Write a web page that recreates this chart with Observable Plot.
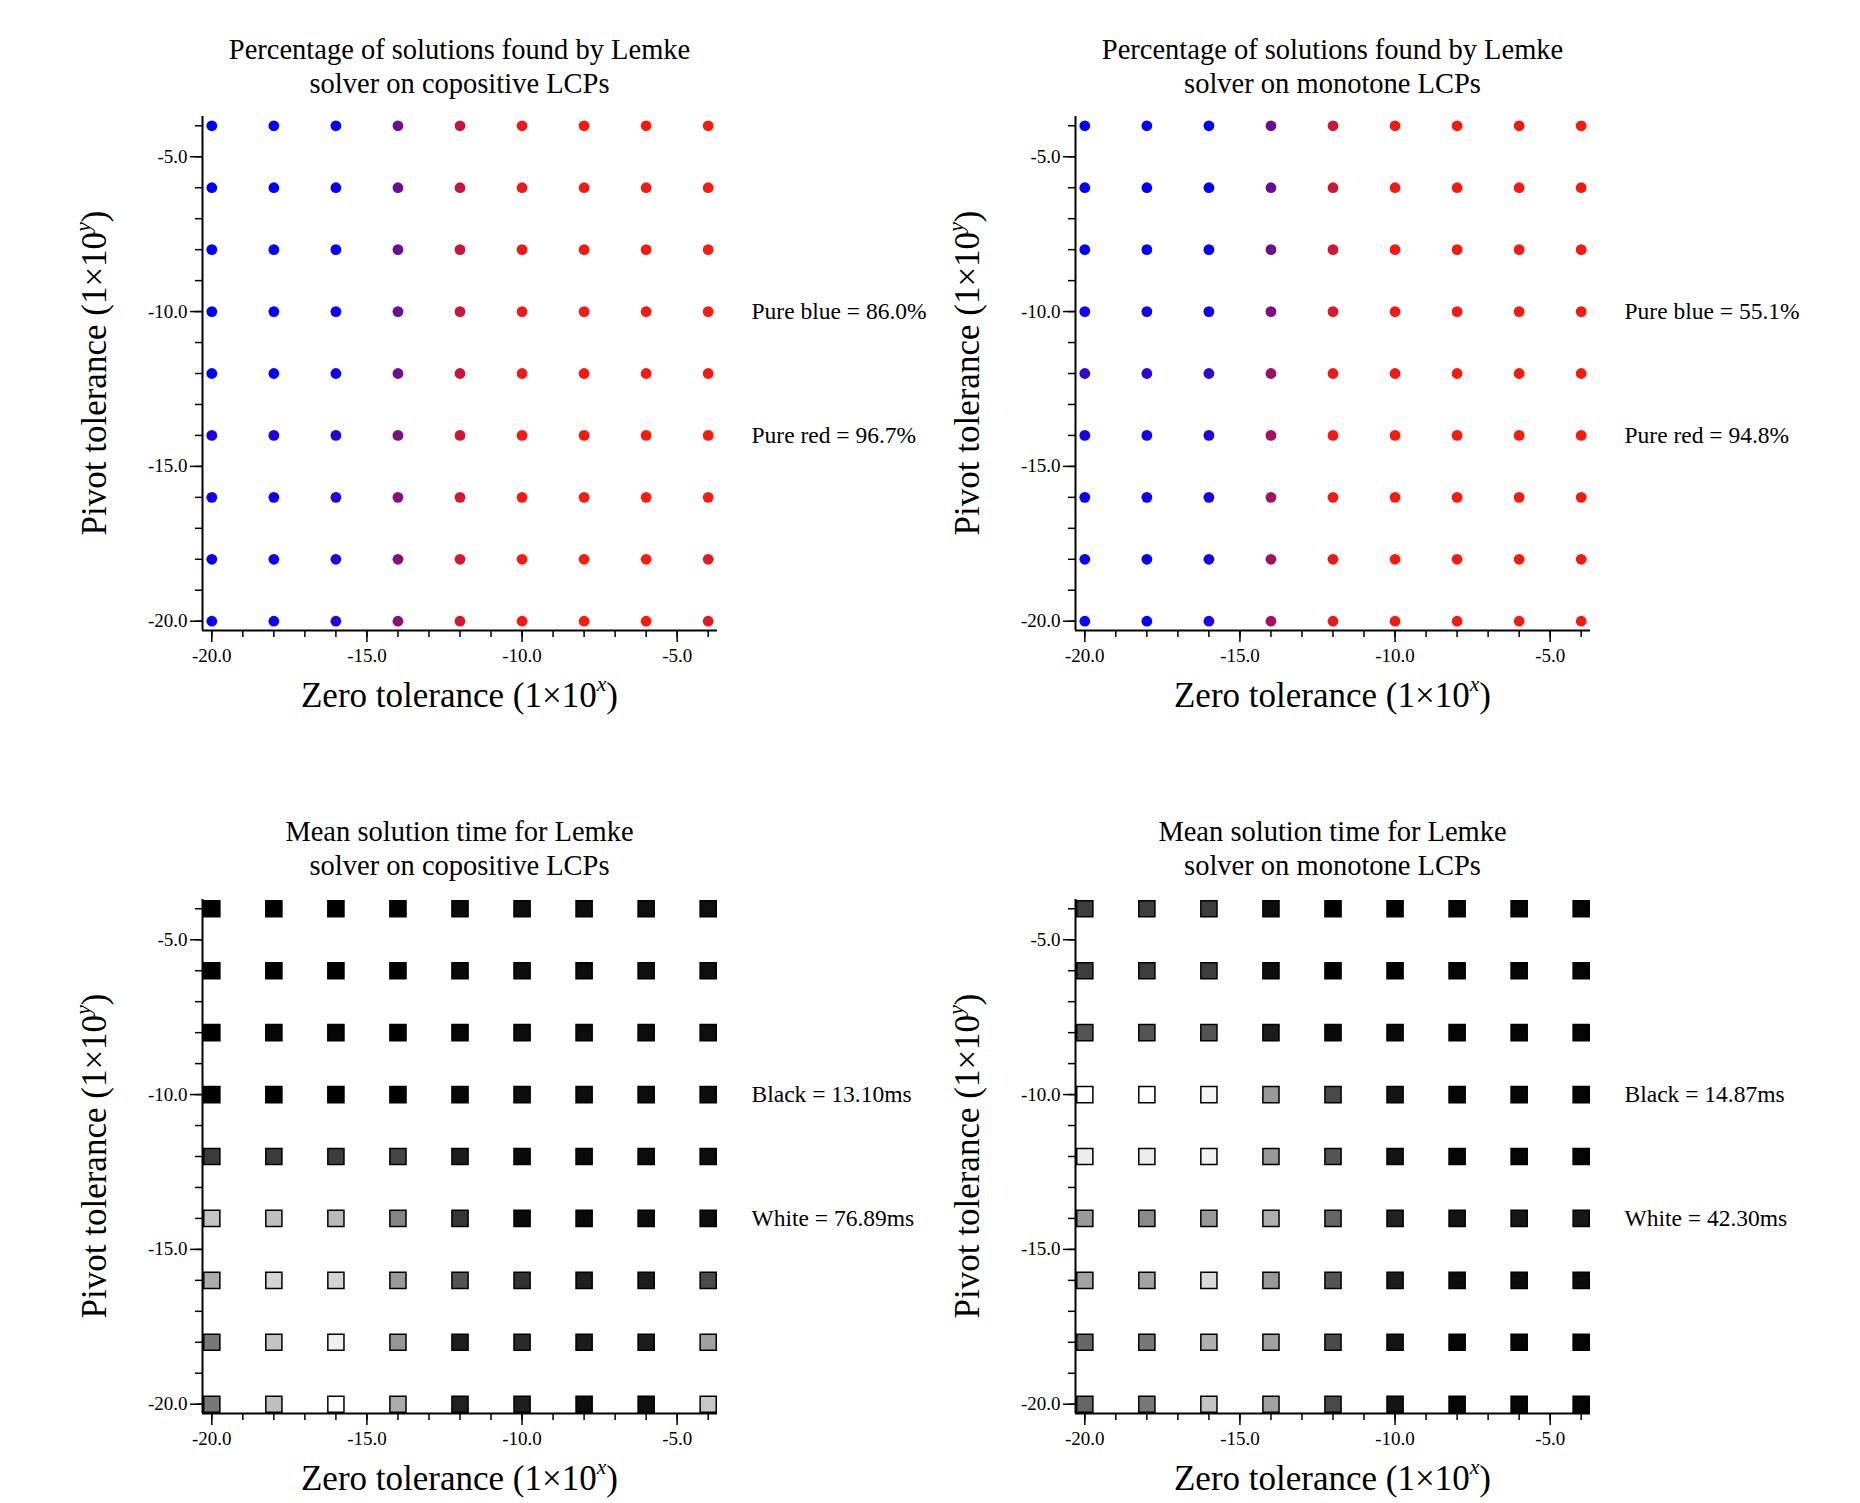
<!DOCTYPE html>
<html>
<head>
<meta charset="utf-8">
<script src="https://cdn.jsdelivr.net/npm/d3@7"></script>
<script src="https://cdn.jsdelivr.net/npm/@observablehq/plot@0.6"></script>
<style>
  body { margin: 0; background: #fff; }
  #root { position: relative; width: 1860px; height: 1503px; font-family: "Liberation Serif", "DejaVu Serif", serif; color: #000; overflow: hidden; }
  .title { position: absolute; text-align: center; font-size: 28.5px; line-height: 34px; width: 700px; }
  .xlab { position: absolute; text-align: center; font-size: 35px; line-height: 42px; width: 600px; white-space: nowrap; }
  .ylab { position: absolute; font-size: 35px; line-height: 42px; white-space: nowrap; transform: translate(-50%, -50%) rotate(-90deg); }
  .xlab sup, .ylab sup { font-size: 0.62em; font-style: italic; line-height: 0; vertical-align: 0.75em; }
  .panel { position: absolute; }
</style>
</head>
<body>
<div id="root"></div>
<script>
// ---- data ----
const xValues = [-20, -18, -16, -14, -12, -10, -8, -6, -4];   // zero tolerance exponent (columns)
const yValues = [-4, -6, -8, -10, -12, -14, -16, -18, -20];   // pivot tolerance exponent (rows)

const xMajorTicks = [-20, -15, -10, -5];
const yMajorTicks = [-20, -15, -10, -5];
const minorTicks = [-20, -19, -18, -17, -16, -15, -14, -13, -12, -11, -10, -9, -8, -7, -6, -5, -4];
const axisDomain = [-20.3, -3.7];

// Percentage of solutions found (copositive), rows = yValues, cols = xValues
const copositivePct = [
  [86.0, 86.0, 86.2, 90.7, 94.5, 96.1, 96.5, 96.5, 96.6],
  [86.0, 86.0, 86.2, 90.6, 94.6, 96.2, 96.5, 96.5, 96.6],
  [86.0, 86.0, 86.2, 90.7, 94.6, 96.2, 96.5, 96.5, 96.6],
  [86.0, 86.0, 86.3, 90.7, 94.6, 96.2, 96.5, 96.5, 96.6],
  [86.0, 86.1, 86.5, 90.9, 94.7, 96.2, 96.5, 96.5, 96.5],
  [87.1, 87.1, 87.6, 91.4, 94.9, 96.3, 96.5, 96.6, 96.6],
  [86.5, 86.5, 87.6, 91.7, 95.1, 96.4, 96.6, 96.6, 96.7],
  [86.3, 86.5, 87.4, 91.8, 95.1, 96.4, 96.6, 96.6, 95.6],
  [86.3, 86.5, 87.5, 92.1, 95.2, 96.4, 96.6, 96.6, 95.6]
];
// Percentage of solutions found (monotone)
const monotonePct = [
  [55.1, 55.1, 55.1, 72.2, 87.7, 93.6, 94.0, 94.0, 94.0],
  [55.1, 55.1, 55.1, 72.2, 88.1, 93.6, 94.0, 94.0, 94.0],
  [55.1, 55.1, 55.1, 72.6, 88.1, 93.6, 94.0, 94.0, 94.0],
  [58.3, 58.3, 57.9, 75.0, 89.6, 93.6, 94.0, 94.0, 94.0],
  [63.8, 63.0, 63.0, 79.7, 92.8, 94.0, 94.4, 94.4, 94.4],
  [58.3, 58.3, 59.9, 81.3, 93.6, 94.8, 94.8, 94.8, 94.8],
  [56.3, 56.3, 59.1, 81.3, 92.8, 94.0, 94.0, 94.0, 94.0],
  [55.9, 55.9, 58.7, 80.9, 92.4, 93.6, 93.6, 93.6, 93.6],
  [55.9, 56.3, 59.1, 81.3, 91.6, 93.6, 93.6, 93.6, 93.6]
];
// Mean solution time in ms (copositive)
const copositiveTime = [
  [13.10, 13.10, 13.10, 13.74, 15.65, 16.29, 16.29, 16.93, 16.93],
  [13.10, 13.10, 13.10, 13.10, 15.65, 16.29, 16.29, 16.93, 16.93],
  [13.10, 15.01, 14.38, 13.10, 15.01, 16.29, 16.29, 16.29, 16.93],
  [13.10, 13.10, 13.10, 13.10, 15.01, 16.29, 16.29, 16.29, 16.29],
  [27.77, 27.77, 28.41, 30.32, 20.12, 15.65, 15.65, 16.29, 16.29],
  [62.22, 60.94, 59.67, 46.27, 26.50, 15.65, 15.65, 16.29, 16.29],
  [55.84, 66.05, 66.05, 51.37, 34.15, 25.86, 20.75, 20.12, 31.60],
  [43.08, 62.22, 73.06, 50.74, 20.75, 23.94, 20.12, 20.12, 53.29],
  [43.08, 60.94, 76.89, 55.84, 21.39, 20.75, 16.29, 16.93, 62.86]
];
// Mean solution time in ms (monotone)
const monotoneTime = [
  [21.45, 21.45, 21.45, 16.24, 14.87, 15.14, 15.42, 15.42, 15.42],
  [21.45, 21.45, 21.45, 16.24, 14.87, 15.14, 15.42, 15.42, 15.42],
  [23.92, 23.92, 23.92, 17.89, 15.97, 15.97, 15.42, 15.42, 15.42],
  [42.30, 42.30, 41.34, 31.33, 22.82, 17.06, 15.42, 15.42, 15.42],
  [40.38, 40.38, 40.93, 31.33, 23.92, 17.06, 15.42, 15.42, 15.42],
  [31.33, 29.68, 31.33, 33.80, 25.84, 18.44, 17.06, 17.34, 17.34],
  [32.43, 32.43, 38.19, 31.33, 23.92, 17.89, 16.24, 16.24, 16.24],
  [25.84, 27.76, 33.80, 32.15, 22.82, 17.06, 15.42, 15.42, 15.42],
  [25.84, 27.76, 35.99, 32.15, 22.82, 17.06, 15.42, 15.42, 15.42]
];

const titles = [
  ["Percentage of solutions found by Lemke", "solver on copositive LCPs"],
  ["Percentage of solutions found by Lemke", "solver on monotone LCPs"],
  ["Mean solution time for Lemke", "solver on copositive LCPs"],
  ["Mean solution time for Lemke", "solver on monotone LCPs"]
];
const annotationLabels = [
  ["Pure blue = 86.0%", "Pure red = 96.7%"],
  ["Pure blue = 55.1%", "Pure red = 94.8%"],
  ["Black = 13.10ms", "White = 76.89ms"],
  ["Black = 14.87ms", "White = 42.30ms"]
];
const annotationRows = [-10, -14];
const colorDomains = [[86.0, 96.7], [55.1, 94.8], [13.10, 76.89], [14.87, 42.30]];
const matrices = [copositivePct, monotonePct, copositiveTime, monotoneTime];

// ---- layout ----
const root = document.getElementById("root");
const frameW = 515, frameH = 514;
const mL = 90, mT = 11, mR = 230, mB = 50;
const origins = [[202, 116], [1075, 116], [202, 898.5], [1075, 898.5]]; // frame top-left per panel

function tidy(matrix) {
  return yValues.flatMap((y, i) => xValues.map((x, j) => ({x, y, v: matrix[i][j]})));
}

matrices.forEach((matrix, k) => {
  const [fx, fy] = origins[k];
  const isTime = k >= 2;
  const data = tidy(matrix);
  const annots = annotationRows.map((y, i) => ({y, label: annotationLabels[k][i]}));

  const dotMark = isTime
    ? Plot.dot(data, {x: "x", y: "y", fill: "v", symbol: "square", r: 9.1, stroke: "#000", strokeWidth: 1.5})
    : Plot.dot(data, {x: "x", y: "y", fill: "v", r: 5.4});

  const chart = Plot.plot({
    width: mL + frameW + mR,
    height: mT + frameH + mB,
    marginLeft: mL, marginRight: mR, marginTop: mT, marginBottom: mB,
    style: {fontFamily: "'Liberation Serif', serif", fontSize: "19px", background: "transparent", color: "#000"},
    x: {domain: axisDomain, axis: null},
    y: {domain: axisDomain, axis: null},
    color: {
      type: "linear",
      domain: colorDomains[k],
      range: isTime ? ["#000000", "#ffffff"] : ["#0000ff", "#f81c0c"],
      interpolate: "rgb"
    },
    marks: [
      Plot.axisX(minorTicks, {tickSize: 7, tickFormat: () => "", strokeWidth: 1.5, label: null}),
      Plot.axisY(minorTicks, {tickSize: 7, tickFormat: () => "", strokeWidth: 1.5, label: null}),
      Plot.axisX(xMajorTicks, {tickSize: 12, tickPadding: 6, tickFormat: d => d.toFixed(1), strokeWidth: 1.5, fontSize: 19, label: null}),
      Plot.axisY(yMajorTicks, {tickSize: 12, tickPadding: 3, tickFormat: d => d.toFixed(1), strokeWidth: 1.5, fontSize: 19, label: null}),
      Plot.ruleX([axisDomain[0]], {strokeWidth: 2}),
      Plot.ruleY([axisDomain[0]], {strokeWidth: 2}),
      dotMark,
      Plot.text(annots, {y: "y", text: "label", frameAnchor: "right", dx: 34, textAnchor: "start", fontSize: 23.5})
    ]
  });

  const panel = document.createElement("div");
  panel.className = "panel";
  panel.style.left = (fx - mL) + "px";
  panel.style.top = (fy - mT) + "px";
  panel.appendChild(chart);
  root.appendChild(panel);

  const cx = fx + frameW / 2;
  const cy = fy + frameH / 2;

  const t = document.createElement("div");
  t.className = "title";
  t.style.left = (cx - 350) + "px";
  t.style.top = (fy - 83.5) + "px";
  t.innerHTML = titles[k][0] + "<br>" + titles[k][1];
  root.appendChild(t);

  const xl = document.createElement("div");
  xl.className = "xlab";
  xl.style.left = (cx - 300) + "px";
  xl.style.top = (fy + frameH + 45) + "px";
  xl.innerHTML = "Zero tolerance (1×10<sup>x</sup>)";
  root.appendChild(xl);

  const yl = document.createElement("div");
  yl.className = "ylab";
  yl.style.left = (fx - 107) + "px";
  yl.style.top = cy + "px";
  yl.innerHTML = "Pivot tolerance (1×10<sup>y</sup>)";
  root.appendChild(yl);
});
</script>
</body>
</html>
